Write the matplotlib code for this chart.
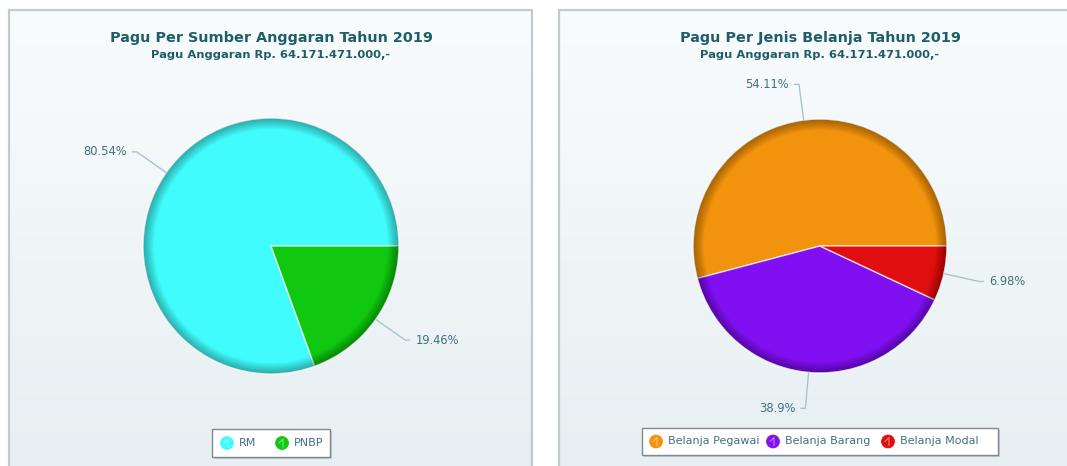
import numpy as np
import matplotlib
matplotlib.use("Agg")
import matplotlib.pyplot as plt
from matplotlib.patches import Rectangle, Wedge, Circle

# ---------------- data ----------------
left_title = "Pagu Per Sumber Anggaran Tahun 2019"
right_title = "Pagu Per Jenis Belanja Tahun 2019"
subtitle = "Pagu Anggaran Rp. 64.171.471.000,-"

left_labels = ["RM", "PNBP"]
left_values = [80.54, 19.46]
left_colors = ["#40fcfc", "#10c810"]

right_labels = ["Belanja Pegawai", "Belanja Barang", "Belanja Modal"]
right_values = [54.11, 38.9, 6.98]
right_colors = ["#f2930e", "#8010f2", "#e00e0e"]

# ---------------- figure ----------------
W, H = 1067, 466
fig = plt.figure(figsize=(W / 100, H / 100), dpi=100)
ax = fig.add_axes([0, 0, 1, 1])
ax.set_xlim(0, W)
ax.set_ylim(0, H)
ax.axis("off")

def Y(p):
    return H - p

TITLE_C = "#1e5d6b"
LABEL_C = "#40707e"
LINE_C = "#a9c4cc"

# panel backgrounds (vertical gradient)
grad = np.linspace(0, 1, 256)[:, None]
top = np.array([0.976, 0.988, 0.992])
bot = np.array([0.905, 0.937, 0.949])
img = top[None, None, :] * (1 - grad[..., None]) + bot[None, None, :] * grad[..., None]
for x0, x1 in [(9, 532), (559, 1080)]:
    ax.imshow(img, extent=[x0, x1, Y(470), Y(10)], aspect="auto", zorder=0)
    ax.add_patch(Rectangle((x0, Y(470)), x1 - x0, 460, fill=False,
                           edgecolor="#c3cace", lw=1.6, zorder=1))

def draw_pie(cx, cy, R, values, colors):
    cyd = Y(cy)
    wedges, _ = ax.pie(values, colors=colors, startangle=0, counterclock=True,
                       center=(cx, cyd), radius=R, frame=True,
                       wedgeprops=dict(edgecolor=(1, 1, 1, 0.7), linewidth=1.0))
    for w in wedges:
        w.set_zorder(3)
    # inner edge shading
    n = 11
    for k in range(1, n + 1):
        ax.add_patch(Wedge((cx, cyd), R, 0, 360, width=k * 1.0,
                           facecolor="black", alpha=0.033, lw=0, zorder=4))
    ax.add_patch(Circle((cx, cyd), R, fill=False, edgecolor=(1, 1, 1, 0.6),
                        lw=1.0, zorder=5))
    # percentage labels with leader lines
    total = sum(values)
    start = 0.0
    for v in values:
        ang = start + v / total * 360 / 2
        start += v / total * 360
        a = np.deg2rad(ang)
        ex, ey = cx + R * np.cos(a), cyd + R * np.sin(a)
        d = R + 36
        bx, by = cx + d * np.cos(a), cyd + d * np.sin(a)
        side = 1 if np.cos(a) >= 0 else -1
        hx = bx + side * 5
        ax.plot([ex, bx, hx], [ey, by, by], color=LINE_C, lw=1.0, zorder=6,
                solid_capstyle="butt")
        ax.text(hx + side * 5, by, f"{v:g}%", ha="left" if side > 0 else "right",
                va="center", fontsize=8.3, color=LABEL_C, zorder=6)

draw_pie(271, 246, 128, left_values, left_colors)
draw_pie(820, 246, 127, right_values, right_colors)

ax.set_xlim(0, W)
ax.set_ylim(0, H)
ax.set_aspect("auto")
ax.axis("off")

# titles
for cx, t in [(271, left_title), (820, right_title)]:
    ax.text(cx, Y(38), t, ha="center", va="center", fontsize=10.4,
            fontweight="bold", color=TITLE_C, zorder=6)
    ax.text(cx, Y(55), subtitle, ha="center", va="center", fontsize=8.25,
            fontweight="bold", color=TITLE_C, zorder=6)

# legends
def legend(x0, x1, y0, y1, labels, colors, icon_x):
    ax.add_patch(Rectangle((x0 + 2, Y(y1) - 2), x1 - x0, y1 - y0,
                           facecolor=(0.5, 0.55, 0.6, 0.35), lw=0, zorder=6))
    ax.add_patch(Rectangle((x0, Y(y1)), x1 - x0, y1 - y0, facecolor="white",
                           edgecolor="#7f8a90", lw=1.0, zorder=7))
    yc = Y((y0 + y1) / 2)
    for lab, col, ix in zip(labels, colors, icon_x):
        ax.add_patch(Circle((ix, yc), 6.5, facecolor=col, edgecolor=col,
                            lw=0.5, zorder=8))
        ax.plot([ix - 3, ix + 1, ix + 1], [yc, yc + 4, yc - 4], color="white",
                lw=0.6, alpha=0.6, zorder=9)
        ax.text(ix + 12, yc, lab, ha="left", va="center", fontsize=8.0,
                color=LABEL_C, zorder=9)

legend(212, 330, 429, 457, left_labels, left_colors, [227, 282])
legend(642, 998, 428, 455, right_labels, right_colors, [656, 773, 888])

fig.savefig("out.png", dpi=100)
